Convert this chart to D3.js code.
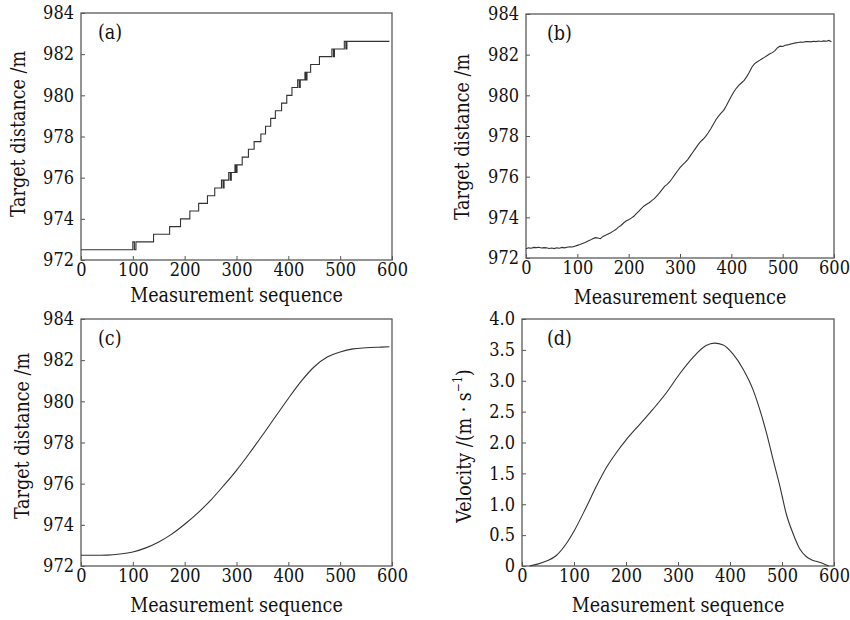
<!DOCTYPE html>
<html>
  <head>
    <meta charset="UTF-8">
    <title>Target distance and velocity</title>
    <script src="https://d3js.org/d3.v7.min.js"></script>
    <style>
    body { margin: 0; background: #fff; }
    text { font-family: "DejaVu Serif Condensed", "DejaVu Serif", serif; font-stretch: condensed; fill: #111; }
    .tick text { font-size: 18px; }
    .tick line { stroke: #555; stroke-width: 1; }
    .frame { fill: none; stroke: #5a5a5a; stroke-width: 1.3px; }
    .curve { fill: none; stroke: #333; stroke-width: 1.1px; }
    .title { font-size: 19.5px; }
    .tag { font-size: 19.5px; }
    </style>
  </head>
  <body>
  <script type="text/javascript">

  // tick values
  var seqTicks = [0, 100, 200, 300, 400, 500, 600];
  var distTicks = [972, 974, 976, 978, 980, 982, 984];
  var velTicks = [0, 0.5, 1.0, 1.5, 2.0, 2.5, 3.0, 3.5, 4.0];

  // (a) quantised distance: sequence index where the level changes, and the new level (m)
  var aSeq = [0, 100, 103, 106, 140, 171, 192, 210, 227, 244, 258, 271, 274, 276,
    285, 288, 290, 297, 299, 301, 311, 323, 334, 347, 356, 366, 375, 387, 397, 407,
    418, 421, 423, 432, 434, 436, 443, 460, 484, 487, 489, 508, 511, 513, 595];
  var aDist = [972.5, 972.88, 972.5, 972.88, 973.25, 973.62, 974.0, 974.38,
    974.75, 975.12, 975.5, 975.88, 975.5, 975.88, 976.25, 975.88, 976.25, 976.62, 976.25,
    976.62, 977.0, 977.38, 977.75, 978.12, 978.5, 978.88, 979.25, 979.62, 980.0, 980.38,
    980.75, 980.38, 980.75, 981.12, 980.75, 981.12, 981.5, 981.88, 982.25, 981.88, 982.25,
    982.62, 982.25, 982.62, 982.62];

  // (b) measured distance, every 5 samples
  var bDist = [972.45, 972.50, 972.48, 972.52, 972.51, 972.53, 972.49, 972.51, 972.50, 972.47,
    972.49, 972.46, 972.50, 972.48, 972.52, 972.50, 972.53, 972.55, 972.54, 972.58,
    972.62, 972.66, 972.71, 972.76, 972.82, 972.88, 972.95, 973.00, 972.98, 972.95,
    973.06, 973.12, 973.18, 973.24, 973.32, 973.40, 973.52, 973.60, 973.72, 973.82,
    973.88, 973.96, 974.05, 974.18, 974.30, 974.44, 974.56, 974.64, 974.72, 974.82,
    974.92, 975.06, 975.20, 975.36, 975.52, 975.62, 975.75, 975.92, 976.10, 976.28,
    976.44, 976.58, 976.70, 976.84, 977.02, 977.20, 977.38, 977.56, 977.72, 977.84,
    977.98, 978.16, 978.36, 978.58, 978.80, 978.98, 979.12, 979.26, 979.48, 979.72,
    979.96, 980.18, 980.36, 980.50, 980.62, 980.74, 980.92, 981.14, 981.38, 981.55,
    981.64, 981.72, 981.80, 981.88, 981.96, 982.04, 982.10, 982.20, 982.34, 982.42,
    982.40, 982.46, 982.48, 982.52, 982.55, 982.58, 982.60, 982.62, 982.61, 982.64,
    982.65, 982.63, 982.66, 982.64, 982.67, 982.65, 982.68, 982.66, 982.70, 982.64];
  var bSeq = bDist.map(function(d, i) { return i * 5; });

  // (c) filtered distance
  var cSeq = [0, 25, 50, 75, 100, 125, 150, 175, 200, 225, 250, 275, 300, 325, 350, 375,
    400, 425, 450, 475, 500, 525, 550, 575, 595];
  var cDist = [972.52, 972.52, 972.53, 972.58, 972.68, 972.88, 973.17, 973.55, 974.03,
    974.57, 975.19, 975.9, 976.65, 977.48, 978.35, 979.25, 980.14, 980.98, 981.68,
    982.15, 982.4, 982.55, 982.6, 982.63, 982.65];

  // (d) velocity
  var dSeq = [15, 30, 47, 66, 85, 101, 124, 143, 162, 181, 201, 226, 252, 278, 303, 329,
    354, 370, 387, 406, 425, 444, 457, 470, 483, 496, 508, 521, 534, 547, 560, 572, 582, 590];
  var dVel = [0, 0.03, 0.08, 0.17, 0.36, 0.58, 0.96, 1.29, 1.59, 1.83, 2.05, 2.29, 2.54,
    2.81, 3.11, 3.38, 3.57, 3.61, 3.58, 3.43, 3.19, 2.86, 2.54, 2.16, 1.72, 1.29, 0.85,
    0.53, 0.28, 0.15, 0.09, 0.06, 0.03, 0];

  var svg = d3.select('body')
    .append('svg')
    .attr('width', 850)
    .attr('height', 620)
    .style('background-color', 'white');

  // box = [left, right, top, bottom]; yt = [x, y] centre of the y title; tg = tag offset; xt = title baseline offset
  var panels = [
    { tag: '(a)', box: [81, 392, 13, 260], xs: aSeq, ys: aDist, curve: d3.curveStepAfter,
      yDom: [972, 984], yTicks: distTicks, yFmt: d3.format('d'), yt: [18, 134], tg: 17, xt: 42 },
    { tag: '(b)', box: [526, 834, 14, 258], xs: bSeq, ys: bDist, curve: d3.curveLinear,
      yDom: [972, 984], yTicks: distTicks, yFmt: d3.format('d'), yt: [462, 137], tg: 21, xt: 46 },
    { tag: '(c)', box: [81, 392, 319, 566], xs: cSeq, ys: cDist, curve: d3.curveMonotoneX,
      yDom: [972, 984], yTicks: distTicks, yFmt: d3.format('d'), yt: [22, 436], tg: 17, xt: 46 },
    { tag: '(d)', box: [522, 834, 319, 566], xs: dSeq, ys: dVel, curve: d3.curveMonotoneX,
      yDom: [0, 4], yTicks: velTicks, yFmt: function(v) { return v === 0 ? '0' : d3.format('.1f')(v); },
      yt: [464, 446], tg: 25, xt: 46, vel: true }
  ];

  panels.forEach(function(p) {
    var x = d3.scaleLinear().domain([0, 600]).range([p.box[0], p.box[1]]);
    var y = d3.scaleLinear().domain(p.yDom).range([p.box[3], p.box[2]]);
    var g = svg.append('g');

    g.append('g')
      .attr('transform', 'translate(0,' + p.box[3] + ')')
      .call(d3.axisBottom(x).tickValues(seqTicks).tickSizeInner(-4).tickSizeOuter(0).tickPadding(3))
      .call(function(a) { a.select('.domain').remove(); });

    g.append('g')
      .attr('transform', 'translate(' + p.box[0] + ',0)')
      .call(d3.axisLeft(y).tickValues(p.yTicks).tickFormat(p.yFmt).tickSizeInner(-4).tickSizeOuter(0).tickPadding(7))
      .call(function(a) { a.select('.domain').remove(); });

    g.selectAll('.tick text').attr('fill', '#111').attr('font-family', null).attr('font-size', null);

    g.append('rect')
      .attr('class', 'frame')
      .attr('x', p.box[0]).attr('y', p.box[2])
      .attr('width', p.box[1] - p.box[0]).attr('height', p.box[3] - p.box[2]);

    var line = d3.line()
      .x(function(d) { return x(d[0]); })
      .y(function(d) { return y(d[1]); })
      .curve(p.curve);

    g.append('path')
      .attr('class', 'curve')
      .attr('d', line(d3.zip(p.xs, p.ys)));

    g.append('text')
      .attr('class', 'tag')
      .attr('x', p.box[0] + p.tg)
      .attr('y', p.box[2] + 26)
      .text(p.tag);

    g.append('text')
      .attr('class', 'title')
      .attr('text-anchor', 'middle')
      .attr('x', (p.box[0] + p.box[1]) / 2)
      .attr('y', p.box[3] + p.xt)
      .text('Measurement sequence');

    var yt = g.append('text')
      .attr('class', 'title')
      .attr('text-anchor', 'middle')
      .attr('transform', 'translate(' + p.yt[0] + ',' + p.yt[1] + ') rotate(-90)')
      .attr('dy', '0.35em');
    if (p.vel) {
      yt.append('tspan').text('Velocity /(m \u00b7 s');
      yt.append('tspan').attr('font-size', '12px').attr('dy', '-0.7em').text('\u22121');
      yt.append('tspan').attr('dy', '0.45em').text(')');
    } else {
      yt.text('Target distance /m');
    }
  });

  </script>
  </body>
</html>
